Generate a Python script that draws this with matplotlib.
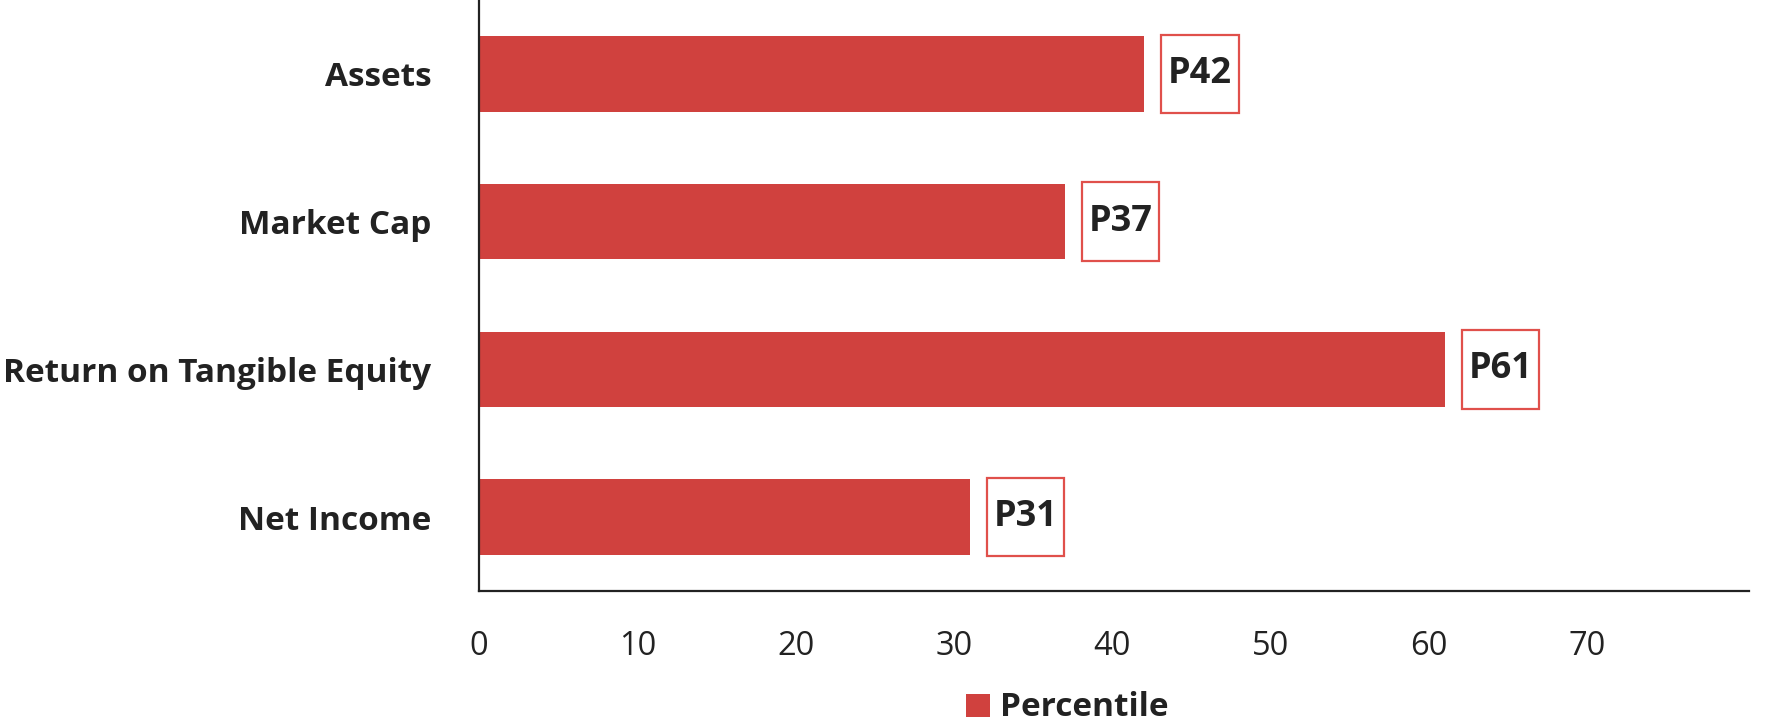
import matplotlib
matplotlib.use("Agg")
import matplotlib.pyplot as plt
from matplotlib.patches import Rectangle

categories = ["Assets", "Market Cap", "Return on Tangible Equity", "Net Income"]
percentiles = [42, 37, 61, 31]
x_ticks = [0, 10, 20, 30, 40, 50, 60, 70]
legend_label = "Percentile"

BAR = "#D0413E"
TXT = "#222222"
plt.rcParams["font.family"] = ["Open Sans", "DejaVu Sans"]

fig = plt.figure(figsize=(17.77, 7.28), dpi=100)
ax = fig.add_axes([0.2696, 0.1882, 0.9842 - 0.2696, 1.0 - 0.1882])

ypos = list(range(len(categories)))
ax.barh(ypos, percentiles, height=0.51, color=BAR, zorder=2)
ax.set_ylim(len(categories) - 0.5, -0.5)
ax.set_xlim(0, 80.2)
ax.set_yticks(ypos)
ax.set_yticklabels(categories, fontsize=24, fontweight="bold", color=TXT)
ax.set_xticks(x_ticks)
ax.set_xticklabels([str(t) for t in x_ticks], fontsize=23.5, color=TXT)
ax.tick_params(axis="both", length=0)
ax.tick_params(axis="y", pad=34.5)
ax.tick_params(axis="x", pad=28)
for s in ["top", "right"]:
    ax.spines[s].set_visible(False)
for s in ["left", "bottom"]:
    ax.spines[s].set_color(TXT)
    ax.spines[s].set_linewidth(1.6)

gap = 1.07
bw = 4.9
bh = 0.53
for y, v in zip(ypos, percentiles):
    ax.add_patch(Rectangle((v + gap, y - bh / 2), bw, bh, facecolor="white",
                           edgecolor="#E0504B", linewidth=1.6, zorder=3))
    ax.text(v + gap + bw / 2, y, f"P{v}", ha="center", va="center",
            fontsize=26, fontweight="bold", color=TXT, zorder=4)

fig.patches.append(Rectangle((966 / 1777, 1 - 717 / 728), 24 / 1777, 23 / 728,
                             transform=fig.transFigure, facecolor=BAR, edgecolor="none"))
fig.text(1000 / 1777, 1 - 707 / 728, legend_label, ha="left", va="center",
         fontsize=24, fontweight="bold", color=TXT)

fig.savefig("out.png", dpi=100)
